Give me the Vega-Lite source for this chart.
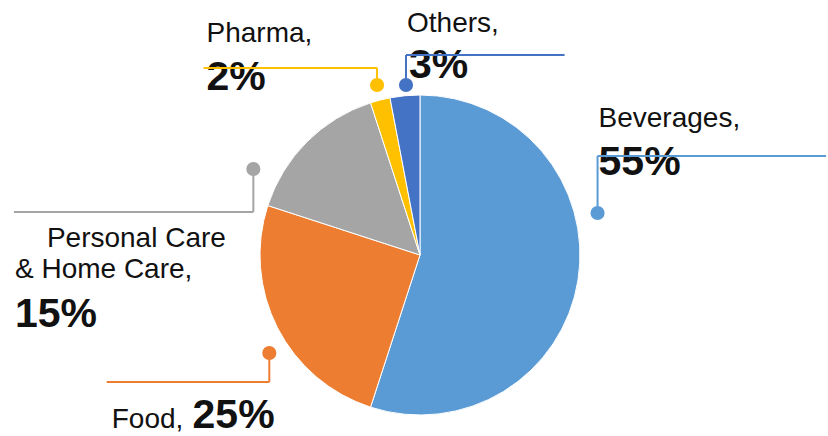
{
  "$schema": "https://vega.github.io/schema/vega-lite/v6.json",
  "width": 828,
  "height": 436,
  "autosize": {"type": "fit", "contains": "padding"},
  "padding": 0,
  "background": "white",
  "config": {"view": {"stroke": null}, "font": "Liberation Sans"},
  "datasets": {
    "slices": [
      {"cat": "Beverages", "share": 55, "ord": 1},
      {"cat": "Food", "share": 25, "ord": 2},
      {"cat": "Personal Care & Home Care", "share": 15, "ord": 3},
      {"cat": "Pharma", "share": 2, "ord": 4},
      {"cat": "Others", "share": 3, "ord": 5}
    ],
    "leaders": [
      {"cat": "Pharma", "x": -0.269, "y": 1.0625, "x2": -0.269, "y2": 1.169},
      {"cat": "Pharma", "x": -1.356, "y": 1.169, "x2": -0.269, "y2": 1.169},
      {"cat": "Others", "x": -0.0875, "y": 1.0625, "x2": -0.0875, "y2": 1.25},
      {"cat": "Others", "x": -0.0875, "y": 1.25, "x2": 0.906, "y2": 1.25},
      {"cat": "Beverages", "x": 1.1125, "y": 0.2625, "x2": 1.1125, "y2": 0.619},
      {"cat": "Beverages", "x": 1.1125, "y": 0.619, "x2": 2.544, "y2": 0.619},
      {"cat": "Personal Care & Home Care", "x": -1.044, "y": 0.5375, "x2": -1.044, "y2": 0.269},
      {"cat": "Personal Care & Home Care", "x": -2.544, "y": 0.269, "x2": -1.044, "y2": 0.269},
      {"cat": "Food", "x": -0.944, "y": -0.6125, "x2": -0.944, "y2": -0.794},
      {"cat": "Food", "x": -1.9625, "y": -0.794, "x2": -0.944, "y2": -0.794}
    ],
    "dots": [
      {"cat": "Pharma", "x": -0.269, "y": 1.0625},
      {"cat": "Others", "x": -0.0875, "y": 1.0625},
      {"cat": "Beverages", "x": 1.1125, "y": 0.2625},
      {"cat": "Personal Care & Home Care", "x": -1.044, "y": 0.5375},
      {"cat": "Food", "x": -0.944, "y": -0.6125}
    ],
    "labels": [
      {"text": "Pharma,", "x": -1.3375, "y": 1.33125, "bold": false},
      {"text": "2%", "x": -1.3375, "y": 1.03125, "bold": true},
      {"text": "Others,", "x": -0.08125, "y": 1.39375, "bold": false},
      {"text": "3%", "x": -0.06875, "y": 1.10625, "bold": true},
      {"text": "Beverages,", "x": 1.11875, "y": 0.8, "bold": false},
      {"text": "55%", "x": 1.11875, "y": 0.5, "bold": true},
      {"text": "Personal Care", "x": -2.3375, "y": 0.05, "bold": false},
      {"text": "& Home Care,", "x": -2.5375, "y": -0.14375, "bold": false},
      {"text": "15%", "x": -2.5375, "y": -0.45, "bold": true},
      {"text": "Food,", "x": -1.93125, "y": -1.08125, "bold": false},
      {"text": "25%", "x": -1.425, "y": -1.08125, "bold": true}
    ]
  },
  "layer": [
    {
      "data": {"name": "slices"},
      "mark": {"type": "arc", "outerRadius": 160, "stroke": "white", "strokeWidth": 1},
      "encoding": {
        "theta": {"field": "share", "type": "quantitative", "stack": true},
        "order": {"field": "ord", "type": "quantitative"},
        "color": {"field": "cat", "type": "nominal", "legend": null,
          "scale": {"domain": ["Beverages", "Food", "Personal Care & Home Care", "Pharma", "Others"],
                    "range": ["#5B9BD5", "#ED7D31", "#A5A5A5", "#FFC000", "#4472C4"]}},
        "x": {"datum": 0, "type": "quantitative", "scale": {"domain": [-2.63125, 2.54375], "nice": false, "zero": false}, "axis": null},
        "y": {"datum": 0, "type": "quantitative", "scale": {"domain": [-1.13125, 1.59375], "nice": false, "zero": false}, "axis": null}
      }
    },
    {
      "data": {"name": "labels"},
      "transform": [{"filter": "!datum.bold"}],
      "mark": {"type": "text", "align": "left", "baseline": "alphabetic", "fontSize": 28, "font": "Liberation Sans", "color": "#111111"},
      "encoding": {
        "x": {"field": "x", "type": "quantitative", "scale": {"domain": [-2.63125, 2.54375], "nice": false, "zero": false}, "axis": null},
        "y": {"field": "y", "type": "quantitative", "scale": {"domain": [-1.13125, 1.59375], "nice": false, "zero": false}, "axis": null},
        "text": {"field": "text"}
      }
    },
    {
      "data": {"name": "labels"},
      "transform": [{"filter": "datum.bold"}],
      "mark": {"type": "text", "align": "left", "baseline": "alphabetic", "fontSize": 41, "fontWeight": "bold", "font": "Liberation Sans", "color": "#111111"},
      "encoding": {
        "x": {"field": "x", "type": "quantitative", "scale": {"domain": [-2.63125, 2.54375], "nice": false, "zero": false}, "axis": null},
        "y": {"field": "y", "type": "quantitative", "scale": {"domain": [-1.13125, 1.59375], "nice": false, "zero": false}, "axis": null},
        "text": {"field": "text"}
      }
    },
    {
      "data": {"name": "leaders"},
      "mark": {"type": "rule", "strokeWidth": 2},
      "encoding": {
        "x": {"field": "x", "type": "quantitative", "scale": {"domain": [-2.63125, 2.54375], "nice": false, "zero": false}, "axis": null},
        "y": {"field": "y", "type": "quantitative", "scale": {"domain": [-1.13125, 1.59375], "nice": false, "zero": false}, "axis": null},
        "x2": {"field": "x2"},
        "y2": {"field": "y2"},
        "color": {"field": "cat", "type": "nominal", "legend": null}
      }
    },
    {
      "data": {"name": "dots"},
      "mark": {"type": "point", "filled": true, "opacity": 1, "size": 200, "shape": "circle"},
      "encoding": {
        "x": {"field": "x", "type": "quantitative", "scale": {"domain": [-2.63125, 2.54375], "nice": false, "zero": false}, "axis": null},
        "y": {"field": "y", "type": "quantitative", "scale": {"domain": [-1.13125, 1.59375], "nice": false, "zero": false}, "axis": null},
        "color": {"field": "cat", "type": "nominal", "legend": null}
      }
    }
  ]
}
